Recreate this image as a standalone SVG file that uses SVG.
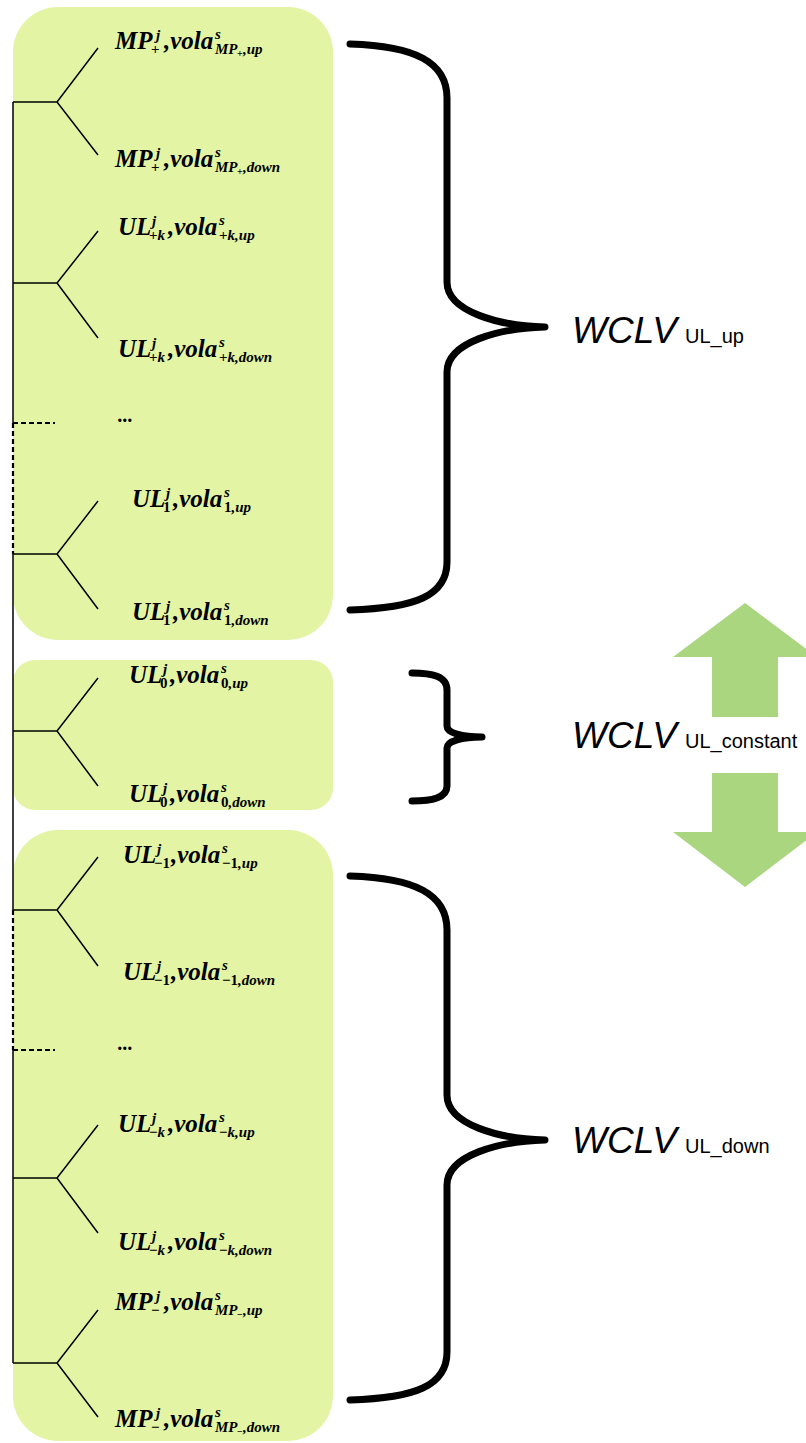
<svg xmlns="http://www.w3.org/2000/svg" width="806" height="1443" viewBox="0 0 806 1443">
<style>
.box{fill:#E3F5A4}
.arw{fill:#A9D67F}
.ln{stroke:#000;stroke-width:1.5;fill:none}
.dash{stroke:#000;stroke-width:2.2;fill:none;stroke-dasharray:5 3}
.br{stroke:#000;stroke-width:7;fill:none;stroke-linecap:round;stroke-linejoin:round}
.m{font-family:"Liberation Serif","Times New Roman",serif;font-weight:bold;font-style:italic;font-size:25px;fill:#000}
.s{font-size:15px}
.ss{font-size:10px}
.u{font-style:normal}
.w{font-family:"Liberation Sans",Arial,sans-serif;font-style:italic;font-size:37px;fill:#000}
.w2{font-family:"Liberation Sans",Arial,sans-serif;font-style:normal;font-size:20px;fill:#000}
</style>
<g id="boxes">
<rect class="box" x="13" y="7" width="320" height="633" rx="45" ry="45"/>
<rect class="box" x="13" y="660" width="320" height="150" rx="22" ry="22"/>
<rect class="box" x="13" y="830" width="320" height="611" rx="45" ry="45"/>
</g>
<g id="arrows">
<polygon class="arw" points="745,603 817,657 778,657 778,717 712,717 712,657 673,657"/>
<polygon class="arw" points="712,773 778,773 778,832 817,832 745,887 673,832 712,832"/>
</g>
<g id="connectors">
<path class="ln" d="M13,102 V423 M13,554 V910 M13,1050 V1363"/>
<path class="dash" d="M13,423 V554 M13,423 H55 M13,910 V1050 M13,1050 H55"/>
<path class="ln" d="M13,102 H57 M98,48 L57,102 L98,155"/>
<path class="ln" d="M13,283 H57 M98,231 L57,283 L98,338"/>
<path class="ln" d="M13,554 H57 M98,501 L57,554 L98,609"/>
<path class="ln" d="M13,731 H57 M98,678 L57,731 L98,786"/>
<path class="ln" d="M13,910 H57 M98,857 L57,910 L98,966"/>
<path class="ln" d="M13,1178 H57 M98,1125 L57,1178 L98,1233"/>
<path class="ln" d="M13,1363 H57 M98,1310 L57,1363 L98,1417"/>
<path class="br" d="M350,44 C415,46 447,62 447,98 L447,282 C447,312 500,326 545,327 C500,328 447,342 447,372 L447,562 C447,596 415,608 350,610"/>
<path class="br" d="M412,673 C432,673 447,676 447,690 L447,726 C447,733 462,737 482,737 C462,737 447,741 447,748 L447,786 C447,798 432,801 412,801"/>
<path class="br" d="M350,876 C415,878 447,894 447,930 L447,1095 C447,1125 500,1139 545,1140 C500,1141 447,1155 447,1185 L447,1352 C447,1386 415,1398 350,1400"/>
</g>
<g id="n1"><text class="m"><tspan x="115" y="49">MP</tspan><tspan class="s u" x="151" y="54">+</tspan><tspan class="s" x="156" y="40">j</tspan><tspan x="164" y="49">,vola</tspan><tspan class="s" x="215" y="39">s</tspan><tspan class="s" x="215" y="54">MP</tspan><tspan class="ss u" x="237" y="57">+</tspan><tspan class="s" x="243" y="54">,up</tspan></text></g>
<g id="n2"><text class="m"><tspan x="115" y="167">MP</tspan><tspan class="s u" x="151" y="172">+</tspan><tspan class="s" x="156" y="158">j</tspan><tspan x="164" y="167">,vola</tspan><tspan class="s" x="215" y="157">s</tspan><tspan class="s" x="215" y="172">MP</tspan><tspan class="ss u" x="237" y="175">+</tspan><tspan class="s" x="243" y="172">,down</tspan></text></g>
<g id="n3"><text class="m"><tspan x="118" y="235">UL</tspan><tspan class="s" x="149" y="240"><tspan class="u">+</tspan>k</tspan><tspan class="s" x="152" y="226">j</tspan><tspan x="168" y="235">,vola</tspan><tspan class="s" x="219" y="225">s</tspan><tspan class="s" x="219" y="240"><tspan class="u">+</tspan>k,up</tspan></text></g>
<g id="n4"><text class="m"><tspan x="118" y="357">UL</tspan><tspan class="s" x="149" y="362"><tspan class="u">+</tspan>k</tspan><tspan class="s" x="152" y="348">j</tspan><tspan x="168" y="357">,vola</tspan><tspan class="s" x="219" y="347">s</tspan><tspan class="s" x="219" y="362"><tspan class="u">+</tspan>k,down</tspan></text></g>
<g id="n5"><text class="m" x="118" y="422" style="font-size:20px">...</text></g>
<g id="n6"><text class="m"><tspan x="132" y="507">UL</tspan><tspan class="s u" x="163" y="512">1</tspan><tspan class="s" x="166" y="498">j</tspan><tspan x="173" y="507">,vola</tspan><tspan class="s" x="224" y="497">s</tspan><tspan class="s" x="224" y="512"><tspan class="u">1</tspan>,up</tspan></text></g>
<g id="n7"><text class="m"><tspan x="132" y="620">UL</tspan><tspan class="s u" x="163" y="625">1</tspan><tspan class="s" x="166" y="611">j</tspan><tspan x="173" y="620">,vola</tspan><tspan class="s" x="224" y="610">s</tspan><tspan class="s" x="224" y="625"><tspan class="u">1</tspan>,down</tspan></text></g>
<g id="n8"><text class="m"><tspan x="129" y="683">UL</tspan><tspan class="s u" x="160" y="688">0</tspan><tspan class="s" x="163" y="674">j</tspan><tspan x="170" y="683">,vola</tspan><tspan class="s" x="221" y="673">s</tspan><tspan class="s" x="221" y="688"><tspan class="u">0</tspan>,up</tspan></text></g>
<g id="n9"><text class="m"><tspan x="129" y="802">UL</tspan><tspan class="s u" x="160" y="807">0</tspan><tspan class="s" x="163" y="793">j</tspan><tspan x="170" y="802">,vola</tspan><tspan class="s" x="221" y="792">s</tspan><tspan class="s" x="221" y="807"><tspan class="u">0</tspan>,down</tspan></text></g>
<g id="n10"><text class="m"><tspan x="123" y="863">UL</tspan><tspan class="s u" x="154" y="868">−1</tspan><tspan class="s" x="157" y="854">j</tspan><tspan x="171" y="863">,vola</tspan><tspan class="s" x="222" y="853">s</tspan><tspan class="s" x="222" y="868"><tspan class="u">−1</tspan>,up</tspan></text></g>
<g id="n11"><text class="m"><tspan x="123" y="980">UL</tspan><tspan class="s u" x="154" y="985">−1</tspan><tspan class="s" x="157" y="971">j</tspan><tspan x="171" y="980">,vola</tspan><tspan class="s" x="222" y="970">s</tspan><tspan class="s" x="222" y="985"><tspan class="u">−1</tspan>,down</tspan></text></g>
<g id="n12"><text class="m" x="118" y="1050" style="font-size:20px">...</text></g>
<g id="n13"><text class="m"><tspan x="118" y="1132">UL</tspan><tspan class="s" x="149" y="1137"><tspan class="u">−</tspan>k</tspan><tspan class="s" x="152" y="1123">j</tspan><tspan x="168" y="1132">,vola</tspan><tspan class="s" x="219" y="1122">s</tspan><tspan class="s" x="219" y="1137"><tspan class="u">−</tspan>k,up</tspan></text></g>
<g id="n14"><text class="m"><tspan x="118" y="1250">UL</tspan><tspan class="s" x="149" y="1255"><tspan class="u">−</tspan>k</tspan><tspan class="s" x="152" y="1241">j</tspan><tspan x="168" y="1250">,vola</tspan><tspan class="s" x="219" y="1240">s</tspan><tspan class="s" x="219" y="1255"><tspan class="u">−</tspan>k,down</tspan></text></g>
<g id="n15"><text class="m"><tspan x="115" y="1310">MP</tspan><tspan class="s u" x="151" y="1315">−</tspan><tspan class="s" x="156" y="1301">j</tspan><tspan x="164" y="1310">,vola</tspan><tspan class="s" x="215" y="1300">s</tspan><tspan class="s" x="215" y="1315">MP</tspan><tspan class="ss u" x="237" y="1318">−</tspan><tspan class="s" x="243" y="1315">,up</tspan></text></g>
<g id="n16"><text class="m"><tspan x="115" y="1427">MP</tspan><tspan class="s u" x="151" y="1432">−</tspan><tspan class="s" x="156" y="1418">j</tspan><tspan x="164" y="1427">,vola</tspan><tspan class="s" x="215" y="1417">s</tspan><tspan class="s" x="215" y="1432">MP</tspan><tspan class="ss u" x="237" y="1435">−</tspan><tspan class="s" x="243" y="1432">,down</tspan></text></g>
<g id="wclv_up"><text class="w" x="572" y="343">WCLV</text><text class="w2" x="685" y="343">UL_up</text></g>
<g id="wclv_const"><text class="w" x="572" y="748">WCLV</text><text class="w2" x="685" y="748">UL_constant</text></g>
<g id="wclv_down"><text class="w" x="572" y="1153">WCLV</text><text class="w2" x="685" y="1153">UL_down</text></g>
</svg>
